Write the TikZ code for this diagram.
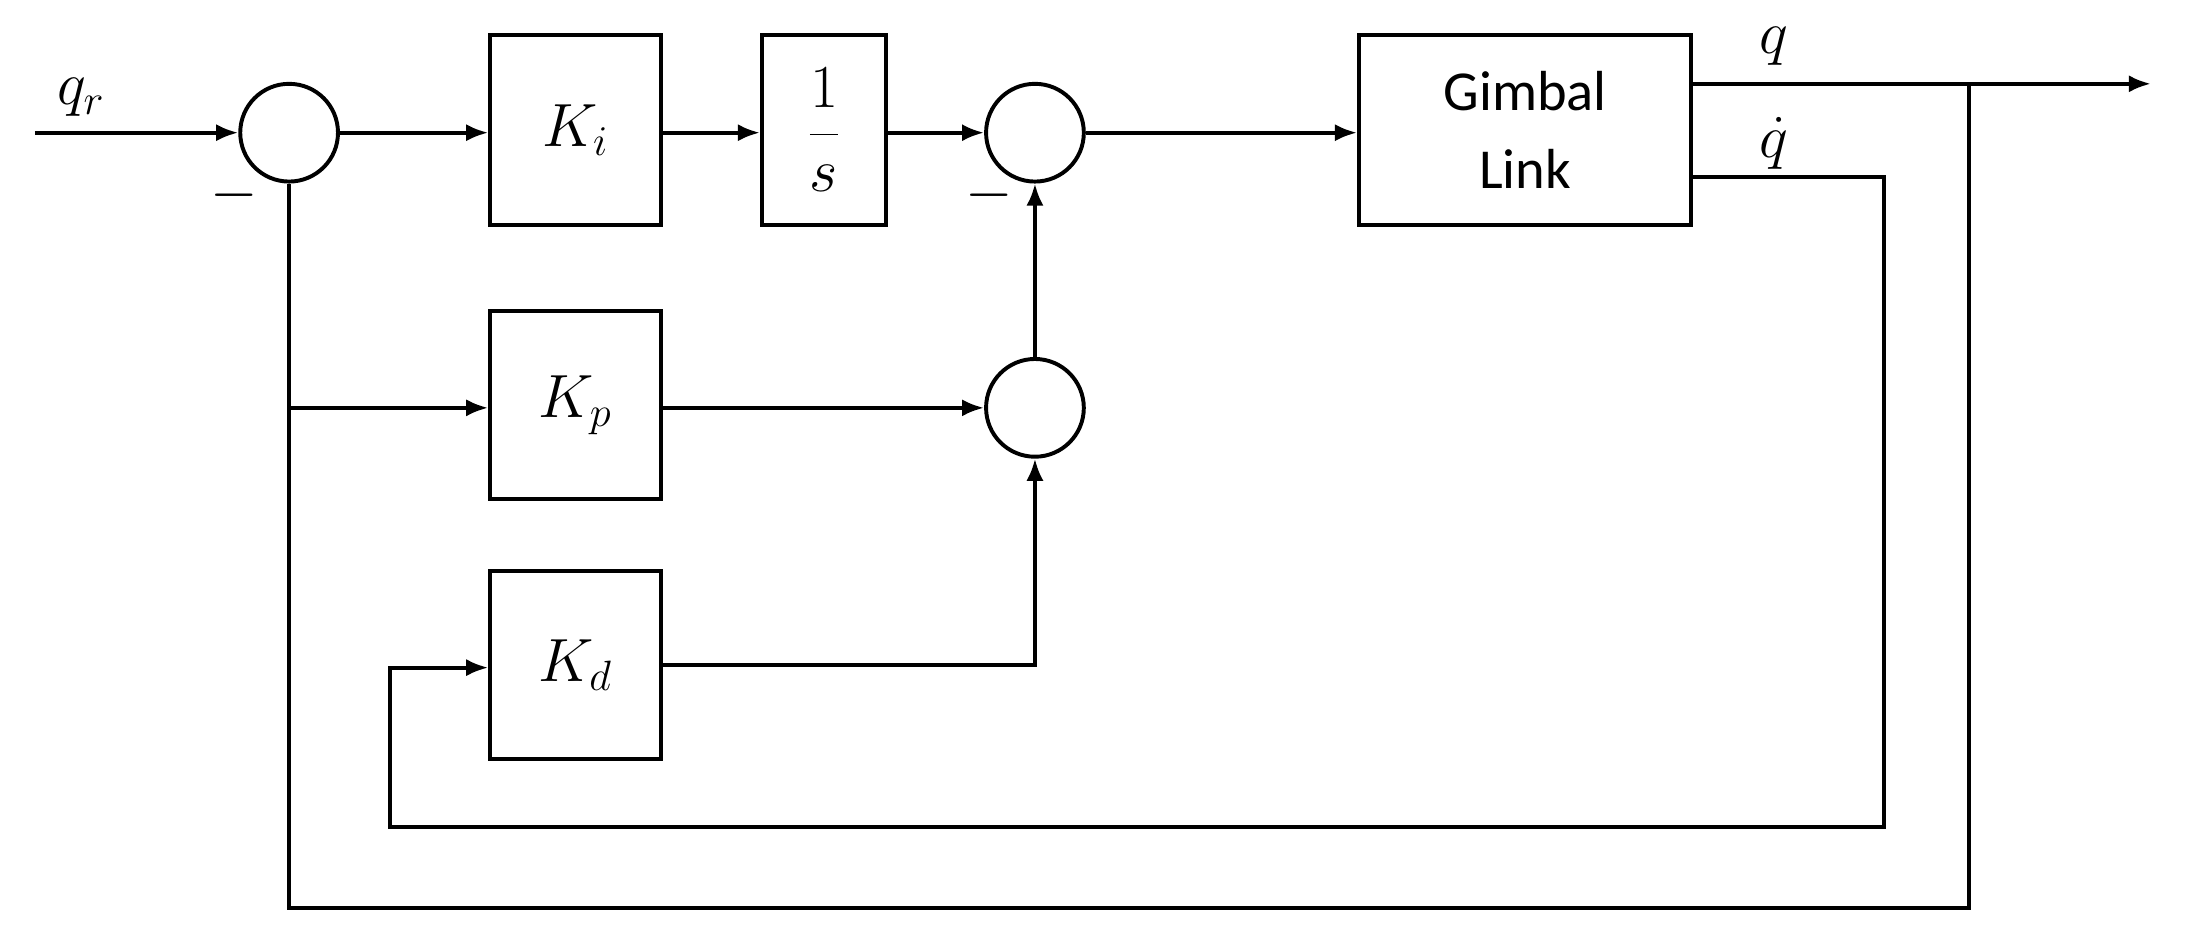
\documentclass[tikz,border=0pt]{standalone}
\usepackage{fontspec}
\newfontfamily\calib{Carlito}
\usetikzlibrary{arrows.meta}
\begin{document}
\begin{tikzpicture}[x=0.02cm,y=-0.02cm,
  blk/.style={draw,line width=1.6pt,inner sep=0pt},
  sum/.style={draw,circle,line width=1.6pt,minimum size=1.4cm,inner sep=0pt},
  ln/.style={line width=1.6pt},
  ar/.style={ln,-{Latex[length=9pt,width=7pt]}},
  lab/.style={font=\fontsize{25}{30}\selectfont}]
\useasboundingbox (0,0) rectangle (1568,674);
\node[blk,minimum width=2.44cm,minimum height=2.72cm,lab] (ki) at (412,93) {$K_i$};
\node[blk,minimum width=1.78cm,minimum height=2.72cm,lab] (is) at (590,93) {$\displaystyle\frac{1}{s}$};
\node[blk,minimum width=4.76cm,minimum height=2.72cm,font=\calib\fontsize{23}{32}\selectfont,align=center] (g) at (1092,93) {Gimbal\\Link};
\node[blk,minimum width=2.44cm,minimum height=2.7cm,lab] (kp) at (412,290) {$K_p$};
\node[blk,minimum width=2.44cm,minimum height=2.7cm,lab] (kd) at (412,476) {$K_d$};
\node[sum] (s1) at (207,95) {};
\node[sum] (s2) at (741,95) {};
\node[sum] (s3) at (741,292) {};
\coordinate (in) at (25,95);
\node[lab] at (58,70) {$q_r$};
\node[lab] at (168,140) {$-$};
\node[lab] at (708,140) {$-$};
\coordinate (go) at (1211,60);
\coordinate (out) at (1540,60);
\coordinate (tap) at (1410,60);
\coordinate (gd) at (1211,127);
\node[lab] at (1270,33) {$q$};
\node[lab] at (1270,103) {$\dot q$};
\draw[ar] (in) -- (s1);
\draw[ar] (s1) -- (s1 -| ki.west);
\draw[ar] (ki.east |- s1) -- (s1 -| is.west);
\draw[ar] (is.east |- s2) -- (s2);
\draw[ar] (s2) -- (s2 -| g.west);
\draw[ar] (go) -- (out);
\draw[ln] (tap) |- (207,650) -- (s1.south);
\draw[ar] (207,292) -- (kp.west |- 207,292);
\draw[ar] (kp.east |- s3) -- (s3);
\draw[ar] (s3) -- (s2);
\draw[ar] (kd.east) -| (s3.south);
\draw[ar] (gd) -- (1349,127) -- (1349,592) -- (279,592) -- (279,478) -- (kd.west |- 279,478);
\end{tikzpicture}
\end{document}
